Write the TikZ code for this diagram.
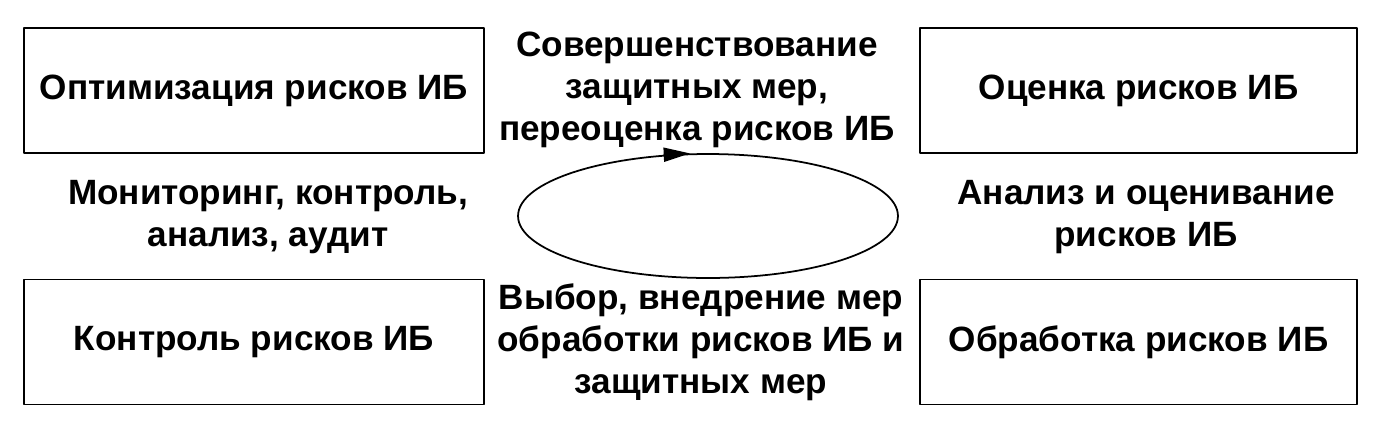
\documentclass[tikz,border=0pt]{standalone}
\usepackage{fontspec}
\setmainfont{Liberation Sans}
\usetikzlibrary{arrows.meta,shapes.geometric}
\begin{document}
\begin{tikzpicture}[line cap=round,line join=round,>={Triangle[length=15pt,width=8pt]},x=0.02cm,y=-0.02cm,
  txt/.style={font=\bfseries\fontsize{20}{24}\selectfont},
  riskbox/.style={txt,draw,line width=1pt,minimum height=2.5cm},
  lbl/.style={txt,align=center,inner sep=0pt}]
\useasboundingbox (0,0) rectangle (1400,424);
% boxes
\node[riskbox,minimum width=9.2cm] (optim) at (254,90.5) {Оптимизация рисков ИБ};
\node[riskbox,minimum width=8.74cm] (assess) at (1138.5,90.5) {Оценка рисков ИБ};
\node[riskbox,minimum width=9.2cm] (control) at (254,342) {Контроль рисков ИБ};
\node[riskbox,minimum width=8.74cm] (treat) at (1138.5,342) {Обработка рисков ИБ};
% cycle
\node[draw,ellipse,line width=1pt,minimum width=7.6cm,minimum height=2.48cm] (cycle) at (708,216) {};
\draw[->,line width=1pt] (cycle.122) -- (cycle.106);
% labels
\node[lbl] (improve) at (697,90) {Совершенствование\\защитных мер,\\переоценка рисков ИБ};
\node[lbl] (monitor) at (268,217) {Мониторинг, контроль,\\анализ, аудит};
\node[lbl] (analysis) at (1146,217) {Анализ и оценивание\\рисков ИБ};
\node[lbl] (select) at (701,342) {Выбор, внедрение мер\\обработки рисков ИБ и\\защитных мер};
\end{tikzpicture}
\end{document}
